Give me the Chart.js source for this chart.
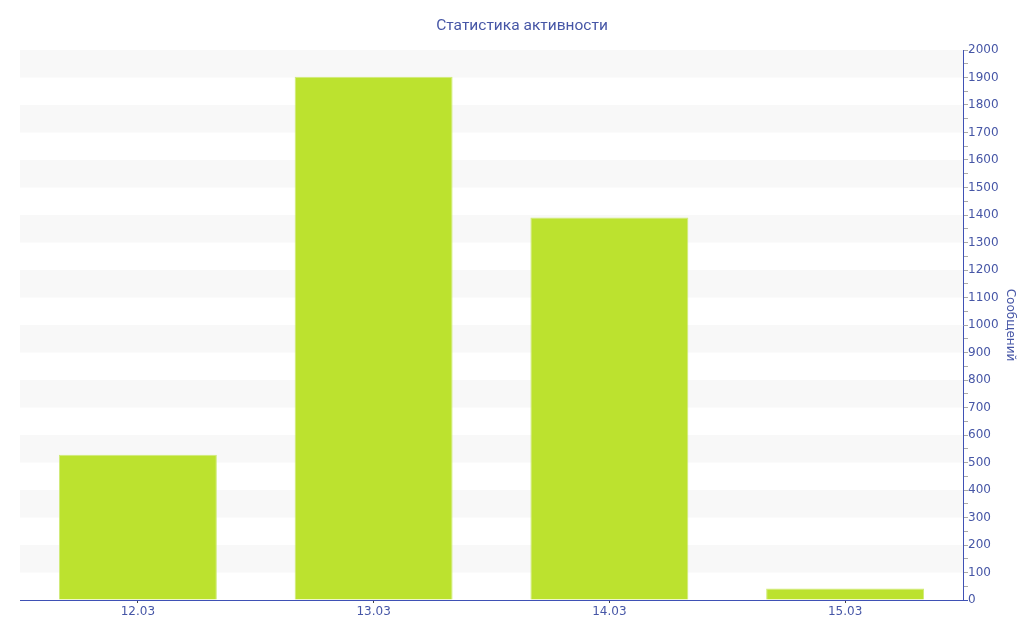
<!DOCTYPE html>
<html><head><meta charset="utf-8">
<script src="https://cdn.jsdelivr.net/npm/chart.js@4"></script>
<style>html,body{margin:0;padding:0;background:#fff}#wrap{width:1024px;height:640px}</style>
</head><body><div id="wrap"><canvas id="c" width="1024" height="640"></canvas></div>
<script>
const categories = ['12.03', '13.03', '14.03', '15.03'];
const messages = [528, 1903, 1391, 42];
const chartTitle = 'Статистика активности';
const yTitle = 'Сообщений';

const axisBlue = '#3f51b5';
const textBlue = '#4656a6';

const bandPlugin = {
  id: 'bands',
  beforeDatasetsDraw(chart) {
    const {ctx, chartArea, scales} = chart;
    const y = scales.y;
    ctx.save();
    ctx.fillStyle = '#f8f8f8';
    for (let v = 100; v < 2000; v += 200) {
      const top = y.getPixelForValue(v + 100);
      const bot = y.getPixelForValue(v);
      ctx.fillRect(chartArea.left, top, chartArea.right - chartArea.left, bot - top);
    }
    ctx.restore();
  }
};

new Chart(document.getElementById('c'), {
  type: 'bar',
  data: {
    labels: categories,
    datasets: [{
      data: messages,
      backgroundColor: '#bce22f',
      borderColor: '#cfea78',
      borderWidth: 1,
      categoryPercentage: 0.67,
      barPercentage: 1.0
    }]
  },
  plugins: [bandPlugin],
  options: {
    responsive: false,
    animation: false,
    layout: {padding: {left: 20, right: 0, top: 0, bottom: 20}},
    plugins: {
      legend: {display: false},
      tooltip: {enabled: false},
      title: {
        display: true, text: chartTitle, color: textBlue,
        font: {family: 'Roboto', size: 15.5, weight: 'normal', lineHeight: '19px'},
        padding: {top: 17, bottom: 14}
      }
    },
    scales: {
      x: {
        afterFit: (s) => { s.height = 20; },
        grid: {display: true, offset: false, drawOnChartArea: true, color: 'rgba(255,255,255,0.8)', tickLength: 3, tickColor: '#444'},
        border: {color: axisBlue, width: 1, z: 1},
        ticks: {color: textBlue, font: {family: 'DejaVu Sans', size: 12}, padding: 2}
      },
      y: {
        position: 'right',
        min: 0, max: 2000,
        afterFit: (s) => { s.width = 61; },
        grid: {drawOnChartArea: false, tickLength: 5,
          tickColor: (c) => (c.tick && c.tick.value === 0) ? axisBlue : '#aaaaaa'},
        border: {color: axisBlue, width: 1},
        ticks: {stepSize: 50, autoSkip: false, color: textBlue, padding: 0,
          font: {family: 'DejaVu Sans', size: 12},
          callback: (v) => v % 100 === 0 ? v : ''},
        title: {display: true, text: yTitle, color: textBlue,
          font: {family: 'DejaVu Sans', size: 12}, padding: {top: 7, bottom: 0}}
      }
    }
  }
});
</script></body></html>
